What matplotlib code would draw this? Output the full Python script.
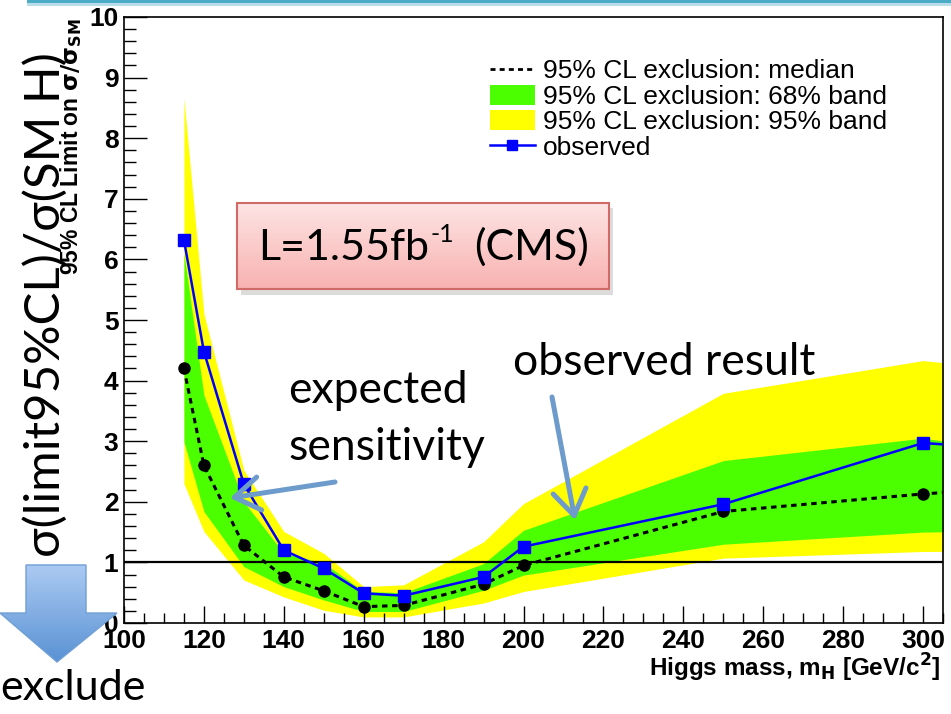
import numpy as np
import matplotlib
matplotlib.use("Agg")
import matplotlib.pyplot as plt
from matplotlib.colors import LinearSegmentedColormap
from matplotlib.lines import Line2D
from matplotlib.patches import Patch, Polygon, Rectangle
from matplotlib.ticker import MultipleLocator

W, H = 951, 714

# Higgs mass points [GeV/c^2]
mass = [115, 120, 130, 140, 150, 160, 170, 190, 200, 250, 300, 350]
# limits on sigma/sigma_SM
observed = [6.32, 4.48, 2.29, 1.20, 0.90, 0.49, 0.45, 0.76, 1.26, 1.96, 2.97, 2.75]
median = [4.20, 2.60, 1.28, 0.76, 0.53, 0.27, 0.29, 0.64, 0.95, 1.84, 2.13, 2.35]
band68_lo = [2.99, 1.84, 0.93, 0.60, 0.38, 0.19, 0.19, 0.54, 0.79, 1.30, 1.50, 1.55]
band68_hi = [6.10, 3.76, 2.00, 1.15, 0.99, 0.52, 0.50, 0.98, 1.53, 2.68, 3.05, 2.60]
band95_lo = [2.30, 1.51, 0.71, 0.43, 0.21, 0.10, 0.10, 0.33, 0.52, 1.07, 1.18, 1.20]
band95_hi = [8.66, 5.10, 2.52, 1.51, 1.15, 0.60, 0.63, 1.34, 1.97, 3.79, 4.33, 4.00]

legend_labels = ["95% CL exclusion: median", "95% CL exclusion: 68% band",
                 "95% CL exclusion: 95% band", "observed"]

NARROW_FONT = ["Liberation Sans Narrow", "Liberation Sans", "DejaVu Sans"]
ROOT_FONT = ["Liberation Sans", "DejaVu Sans"]
SLIDE_FONT = ["Lato", "DejaVu Sans"]


def fx(x):
    return x / W


def fy(y):
    return 1 - y / H


fig = plt.figure(figsize=(W / 100, H / 100), dpi=100)
fig.patch.set_facecolor("white")

ax = fig.add_axes([fx(124), fy(623), fx(943) - fx(124), fy(17) - fy(623)])
ax.fill_between(mass, band95_lo, band95_hi, color="#ffff00", lw=0, zorder=1)
ax.fill_between(mass, band68_lo, band68_hi, color="#4cff00", lw=0, zorder=2)
ax.axhline(1, color="black", lw=1.6, zorder=3)
ax.plot(mass, median, color="black", ls=(0, (1.8, 1.5)), lw=2.2,
        marker="o", ms=8, zorder=4)
ax.plot(mass, observed, color="#0000ff", lw=1.8, marker="s", ms=8, zorder=5)
ax.set_xlim(100, 305)
ax.set_ylim(0, 10)

ax.xaxis.set_major_locator(MultipleLocator(20))
ax.xaxis.set_minor_locator(MultipleLocator(5))
ax.yaxis.set_major_locator(MultipleLocator(1))
ax.yaxis.set_minor_locator(MultipleLocator(0.2))
ax.tick_params(axis="x", which="major", direction="in", length=12, width=1, pad=4)
ax.tick_params(axis="x", which="minor", direction="in", length=7, width=1)
ax.tick_params(axis="y", which="major", direction="in", length=16.5, width=1, pad=4)
ax.tick_params(axis="y", which="minor", direction="in", length=8.5, width=1)
for lab in ax.get_xticklabels() + ax.get_yticklabels():
    lab.set_fontfamily(NARROW_FONT)
    lab.set_fontweight("bold")
    lab.set_fontsize(19)
for sp in ax.spines.values():
    sp.set_linewidth(1.2)

handles = [
    Line2D([], [], color="black", ls=(0, (1.8, 1.5)), lw=2.0),
    Patch(facecolor="#4cff00", edgecolor="none"),
    Patch(facecolor="#ffff00", edgecolor="none"),
    Line2D([], [], color="#0000ff", lw=1.8, marker="s", ms=7),
]
ax.legend(handles, legend_labels, loc="upper left",
          bbox_to_anchor=(fx(490), fy(59)), bbox_transform=fig.transFigure,
          frameon=False, borderpad=0, borderaxespad=0, handlelength=1.7,
          handleheight=0.8, handletextpad=0.3, labelspacing=0.05,
          prop={"family": ROOT_FONT, "size": 19})

fig.text(fx(940), fy(668), r"Higgs mass, m$_{\mathbf{H}}$ [GeV/c$^{\mathbf{2}}$]",
         ha="right", va="center", fontsize=17.5, fontweight="bold",
         family=ROOT_FONT)
fig.text(fx(71), fy(18), r"95% CL Limit on $\mathbf{\sigma/\sigma_{SM}}$",
         ha="center", va="top", rotation=90, fontsize=16.5, fontweight="bold",
         family=ROOT_FONT)

# slide overlay in pixel coordinates
ov = fig.add_axes([0, 0, 1, 1], zorder=10)
ov.set_xlim(0, W)
ov.set_ylim(H, 0)
ov.axis("off")
ov.patch.set_alpha(0)

ov.add_patch(Rectangle((27, 0), W - 27, 3, color="#4bacc6", lw=0))
ov.add_patch(Rectangle((27, 3), W - 27, 2.5, color="#b8dde8", lw=0))

fig.text(fx(45), fy(305), r"σ(limit95%CL)/σ(SM H)", rotation=90,
         ha="center", va="center", fontsize=35.5, family=SLIDE_FONT)

# pink luminosity box
grad = np.linspace(0, 1, 100).reshape(-1, 1)
ov.add_patch(Rectangle((241, 208), 372, 87, color="#bbbbbb", alpha=0.5, lw=0))
box = Rectangle((237, 203), 372, 86, facecolor="none", edgecolor="#d06a66",
                lw=1.5, zorder=2)
ov.add_patch(box)
ov.imshow(grad, extent=(237, 609, 289, 203), aspect="auto", zorder=1,
          cmap=LinearSegmentedColormap.from_list("pink", ["#fde4e4", "#f8b2b0"]))

renderer = fig.canvas.get_renderer()
inv = ov.transData.inverted()


def right_edge(t):
    bb = t.get_window_extent(renderer)
    return inv.transform((bb.x1, bb.y0))[0]


t_lumi = ov.text(258, 260, "L=1.55fb", fontsize=31, family=SLIDE_FONT,
                 va="baseline", ha="left", zorder=3)
t_sup = ov.text(right_edge(t_lumi) + 2, 242, "-1", fontsize=18, family=SLIDE_FONT,
                va="baseline", ha="left", zorder=3)
ov.text(right_edge(t_sup) + 20, 260, "(CMS)", fontsize=31, family=SLIDE_FONT,
        va="baseline", ha="left", zorder=3)

ov.text(288, 403, "expected", fontsize=32, family=SLIDE_FONT, va="baseline")
ov.text(288, 460, "sensitivity", fontsize=32, family=SLIDE_FONT, va="baseline")
ov.text(513, 375, "observed result", fontsize=32, family=SLIDE_FONT, va="baseline")

arrow_col = "#6d9bcb"
for tip, tail in [((230, 498), (335, 482)), ((575, 520), (552, 397))]:
    ov.annotate("", xy=tip, xytext=tail,
                arrowprops=dict(arrowstyle="->, head_length=0.9, head_width=0.6",
                                color=arrow_col, lw=3.6, mutation_scale=20,
                                shrinkA=0, shrinkB=0))

# big "exclude" arrow
arrow_pts = [(26, 565), (86, 565), (86, 613), (117, 613), (57, 662), (0, 613), (26, 613)]
big = Polygon(arrow_pts, closed=True, facecolor="none", edgecolor="#6f9fd6", lw=1, zorder=3)
ov.add_patch(big)
gim = ov.imshow(grad, extent=(0, 117, 662, 565), aspect="auto", zorder=2,
                cmap=LinearSegmentedColormap.from_list("blue", ["#abcaf2", "#5a92d4"]))
gim.set_clip_path(big)
ov.text(0, 700, "exclude", fontsize=31, family=SLIDE_FONT, va="baseline")
ov.set_xlim(0, W)
ov.set_ylim(H, 0)

fig.savefig("out.png", dpi=100)
